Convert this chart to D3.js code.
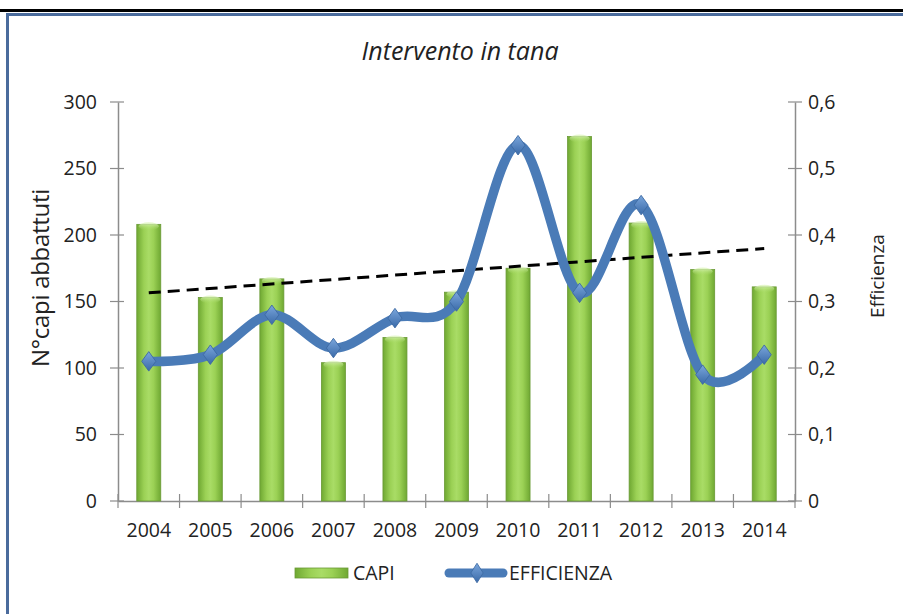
<!DOCTYPE html>
<html><head><meta charset="utf-8">
<script src="https://cdn.jsdelivr.net/npm/d3@7"></script>
<style>body{margin:0;background:#fff}svg{display:block}text{font-family:"Open Sans","Noto Sans",sans-serif;fill:#222}</style>
</head><body><svg id="c" width="903" height="614"></svg>
<script>
const years = ["2004","2005","2006","2007","2008","2009","2010","2011","2012","2013","2014"];
const capi = [208,153,167,104,123,157,175,274,209,174,161];
const efficienza = [0.21,0.22,0.28,0.23,0.275,0.30,0.535,0.313,0.445,0.19,0.22];
const leftTicks = [0,50,100,150,200,250,300];
const rightTicks = [0,0.1,0.2,0.3,0.4,0.5,0.6];
const title = "Intervento in tana";
const leftTitle = "N°capi abbattuti";
const rightTitle = "Efficienza";
const seriesNames = ["CAPI","EFFICIENZA"];

const svg = d3.select("#c");
const defs = svg.append("defs");
const g1 = defs.append("linearGradient").attr("id","barG").attr("x1","0").attr("x2","1").attr("y1","0").attr("y2","0");
g1.append("stop").attr("offset","0").attr("stop-color","#6fa832");
g1.append("stop").attr("offset","0.3").attr("stop-color","#9bd155");
g1.append("stop").attr("offset","0.5").attr("stop-color","#a9dc66");
g1.append("stop").attr("offset","0.7").attr("stop-color","#9bd155");
g1.append("stop").attr("offset","1").attr("stop-color","#6fa832");
const g2 = defs.append("linearGradient").attr("id","topG").attr("x1","0").attr("x2","0").attr("y1","0").attr("y2","1");
g2.append("stop").attr("offset","0").attr("stop-color","#e4f7c8").attr("stop-opacity",0.9);
g2.append("stop").attr("offset","1").attr("stop-color","#a9dc66").attr("stop-opacity",0);
const g3 = defs.append("linearGradient").attr("id","dG").attr("x1","0").attr("x2","0").attr("y1","0").attr("y2","1");
g3.append("stop").attr("offset","0").attr("stop-color","#7aa6dc");
g3.append("stop").attr("offset","1").attr("stop-color","#3a6aa8");

// frame
svg.append("rect").attr("x",0).attr("y",9).attr("width",903).attr("height",3).attr("fill","#000");
svg.append("path").attr("d","M7.5,614 V14.5 H903").attr("fill","none").attr("stroke","#4a6b9c").attr("stroke-width",3);

const L = 118, R = 795, T = 102, B = 501;
const x = d3.scaleBand().domain(years).range([L,R]).paddingInner(0).paddingOuter(0);
const yL = d3.scaleLinear().domain([0,300]).range([B,T]);
const yR = d3.scaleLinear().domain([0,0.6]).range([B,T]);
const bw = x.bandwidth()*0.39;

svg.append("text").attr("x",460).attr("y",60).attr("text-anchor","middle").attr("font-size",25).attr("font-style","italic").text(title);

// axes
const axL = svg.append("g").attr("transform",`translate(${L},0)`).call(d3.axisLeft(yL).tickValues(leftTicks).tickSize(0).tickPadding(21).tickFormat(d3.format("d")));
const axR = svg.append("g").attr("transform",`translate(${R},0)`).call(d3.axisRight(yR).tickValues(rightTicks).tickSize(0).tickPadding(13).tickFormat(d=>d===0?"0":d3.format(".1f")(d).replace(".",",")));
const axB = svg.append("g").attr("transform",`translate(0,${B})`).call(d3.axisBottom(x).tickSize(0).tickPadding(22));
[axL,axR,axB].forEach(a=>{a.select(".domain").attr("stroke","#8c8c8c").attr("stroke-width",1.5);a.selectAll("text").attr("font-size",19.5).attr("fill","#222").attr("font-family","'Open Sans',sans-serif");});
// cross ticks
svg.append("g").selectAll("line").data(leftTicks).join("line").attr("x1",L-8).attr("x2",L+6).attr("y1",d=>yL(d)).attr("y2",d=>yL(d)).attr("stroke","#8c8c8c").attr("stroke-width",1.2);
svg.append("g").selectAll("line").data(rightTicks).join("line").attr("x1",R-7).attr("x2",R+7).attr("y1",d=>yR(d)).attr("y2",d=>yR(d)).attr("stroke","#8c8c8c").attr("stroke-width",1.2);
const bounds = years.map(y=>x(y)).concat([R]);
svg.append("g").selectAll("line").data(bounds).join("line").attr("x1",d=>d).attr("x2",d=>d).attr("y1",B-7).attr("y2",B+7).attr("stroke","#8c8c8c").attr("stroke-width",1.2);

// axis titles
svg.append("text").attr("transform",`translate(49,278) rotate(-90)`).attr("text-anchor","middle").attr("font-size",24).attr("letter-spacing",-0.3).text(leftTitle);
svg.append("text").attr("transform",`translate(884,276) rotate(-90)`).attr("text-anchor","middle").attr("font-size",19).text(rightTitle);

// bars
const bars = svg.append("g");
bars.selectAll("rect.b").data(years).join("rect").attr("class","b")
  .attr("x",d=>x(d)+x.bandwidth()/2-bw/2).attr("width",bw)
  .attr("y",(d,i)=>yL(capi[i])).attr("height",(d,i)=>B-yL(capi[i]))
  .attr("fill","url(#barG)").attr("stroke","#6a9a36").attr("stroke-width",0.8);
bars.selectAll("ellipse").data(years).join("ellipse")
  .attr("cx",d=>x(d)+x.bandwidth()/2).attr("cy",(d,i)=>yL(capi[i])+2).attr("rx",bw/2-2).attr("ry",4)
  .attr("fill","url(#topG)");

// trend line (linear regression of capi)
const n = capi.length, idx = d3.range(n);
const mx = d3.mean(idx), my = d3.mean(capi);
const slope = d3.sum(idx,i=>(i-mx)*(capi[i]-my))/d3.sum(idx,i=>(i-mx)*(i-mx));
const icpt = my - slope*mx;
const cx = i => x(years[i]) + x.bandwidth()/2;
svg.append("line").attr("x1",cx(0)).attr("x2",cx(n-1)).attr("y1",yL(icpt)).attr("y2",yL(icpt+slope*(n-1)))
  .attr("stroke","#000").attr("stroke-width",3).attr("stroke-dasharray","12,7");

// efficiency line
const line = d3.line().x((d,i)=>cx(i)).y(d=>yR(d)).curve(d3.curveCardinal.tension(0));
svg.append("path").datum(efficienza).attr("d",line).attr("fill","none").attr("stroke","#4a7bb7").attr("stroke-width",9.5).attr("stroke-linejoin","round");
const dia = d3.symbol().type(d3.symbolDiamond).size(110);
svg.append("g").selectAll("path").data(efficienza).join("path").attr("d",dia)
  .attr("transform",(d,i)=>`translate(${cx(i)},${yR(d)}) scale(1.25,1)`).attr("fill","url(#dG)").attr("stroke","#3d6aa3").attr("stroke-width",0.8);

// legend
const lg = svg.append("g");
lg.append("rect").attr("x",295).attr("y",568).attr("width",53).attr("height",10).attr("fill","url(#barG)").attr("stroke","#6a9a36").attr("stroke-width",0.8);
lg.append("text").attr("x",353).attr("y",580).attr("font-size",19.5).text(seriesNames[0]);
lg.append("line").attr("x1",449).attr("x2",503).attr("y1",573).attr("y2",573).attr("stroke","#4a7bb7").attr("stroke-width",9).attr("stroke-linecap","round");
lg.append("path").attr("d",dia).attr("transform","translate(477,573) scale(1.1,1)").attr("fill","url(#dG)").attr("stroke","#3d6aa3").attr("stroke-width",0.8);
lg.append("text").attr("x",509).attr("y",580).attr("font-size",19.5).text(seriesNames[1]);
</script></body></html>
